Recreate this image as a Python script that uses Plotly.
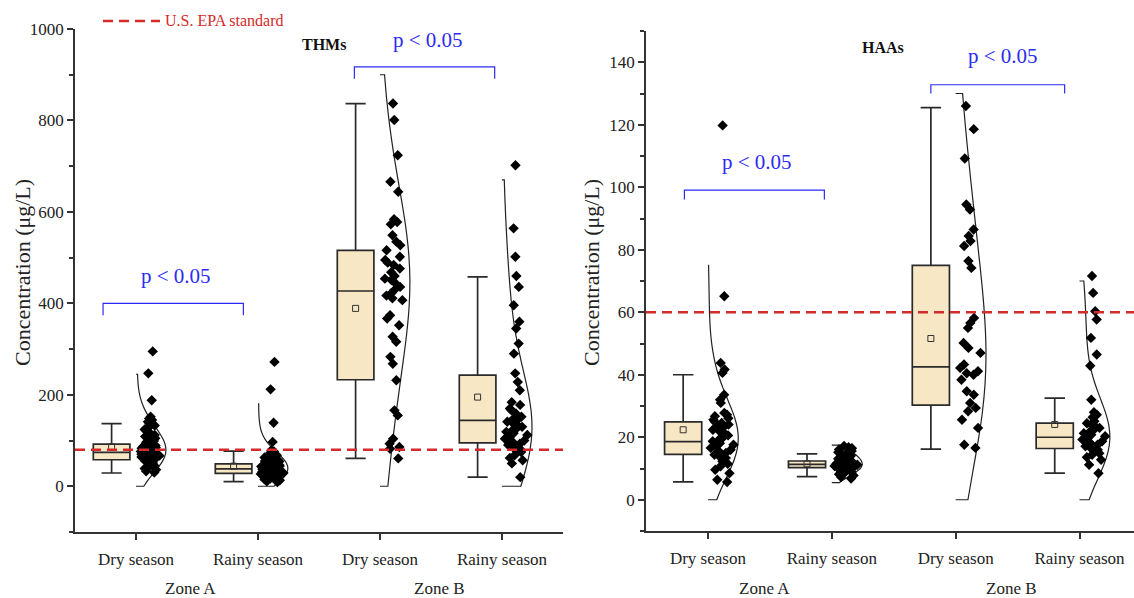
import plotly.graph_objects as go

# ---------------- data ----------------
categories = ["Dry season", "Rainy season", "Dry season", "Rainy season"]
zones = ["Zone A", "Zone B"]
positions = [1, 2, 3, 4]

# THMs box statistics (ug/L)
thm_q1 = [58, 28, 233, 95]
thm_median = [74, 38, 427, 144]
thm_q3 = [92, 49, 516, 243]
thm_low = [29, 10, 61, 20]
thm_high = [137, 77, 837, 458]
thm_mean = [86, 44, 389, 195]

# HAAs box statistics (ug/L)
haa_q1 = [14.5, 10.3, 30.3, 16.4]
haa_median = [18.6, 11.3, 42.5, 20.0]
haa_q3 = [24.9, 12.4, 75.0, 24.5]
haa_low = [5.7, 7.4, 16.2, 8.5]
haa_high = [40.0, 14.7, 125.5, 32.5]
haa_mean = [22.4, 11.5, 51.6, 24.1]

# individual samples
thm_dry_a = [295, 247, 188, 152, 148, 145, 141, 137, 133, 128, 124, 119, 116, 112, 109,
             105, 102, 99, 96, 93, 91, 89, 87, 85, 83, 82, 80, 79, 78, 77, 76, 75, 74,
             73, 72, 71, 70, 69, 67, 66, 64, 62, 60, 58, 56, 54, 51, 48, 45, 42, 39, 36, 33, 30]
thm_rainy_a = [272, 212, 139, 97, 79, 76, 73, 71, 68, 66, 63, 61, 59, 57, 55, 54, 52, 51,
               49, 48, 47, 46, 45, 44, 43, 42, 41, 40, 39, 38, 37, 36, 35, 34, 33, 32, 31,
               30, 29, 28, 27, 26, 25, 24, 23, 22, 21, 20, 18, 17, 15, 13, 11, 9]
thm_dry_b = [837, 801, 724, 666, 644, 584, 578, 573, 549, 535, 527, 516, 502, 495, 489,
             484, 476, 468, 460, 454, 451, 443, 436, 429, 422, 417, 411, 407, 374, 367,
             352, 327, 316, 283, 268, 232, 166, 155, 104, 93, 86, 82, 61]
thm_rainy_b = [702, 564, 502, 460, 436, 396, 360, 345, 312, 290, 247, 228, 210, 184, 178,
               170, 166, 159, 152, 148, 144, 141, 137, 133, 130, 126, 123, 119, 116, 112,
               108, 104, 100, 97, 93, 90, 86, 82, 78, 75, 68, 62, 57, 50, 20]

haa_dry_a = [119.8, 65.1, 43.8, 41.7, 40.6, 33.6, 32.0, 31.0, 27.8, 27.2, 26.7, 26.1, 25.6,
             25.0, 24.6, 24.1, 23.5, 23.0, 22.4, 21.9, 21.4, 20.6, 19.8, 19.2, 18.7, 18.1,
             17.6, 17.0, 16.6, 16.0, 15.5, 15.0, 14.4, 13.9, 13.4, 12.3, 11.5, 10.7, 9.6,
             8.5, 6.4, 5.7]
haa_rainy_a = [17.2, 16.8, 16.5, 16.1, 15.6, 15.2, 14.8, 14.5, 14.1, 13.7, 13.4, 13.1, 12.8,
               12.5, 12.3, 12.0, 11.8, 11.6, 11.4, 11.2, 11.0, 10.8, 10.6, 10.4, 10.2, 10.0,
               9.8, 9.5, 9.2, 8.9, 8.6, 8.2, 7.8, 7.3, 6.8]
haa_dry_b = [126.0, 118.6, 109.2, 94.5, 92.9, 86.5, 84.4, 82.8, 81.2, 76.4, 74.2, 58.2, 56.6,
             55.0, 50.2, 48.6, 47.0, 43.3, 42.2, 41.1, 40.5, 40.0, 38.4, 34.7, 33.6, 31.0,
             29.4, 28.3, 25.6, 23.0, 17.6, 16.6]
haa_rainy_b = [71.6, 66.2, 60.3, 57.7, 51.8, 46.5, 42.9, 32.0, 28.0, 27.2, 26.4, 25.1, 24.5,
               24.0, 23.4, 23.0, 22.5, 21.9, 21.3, 20.8, 20.3, 19.8, 19.3, 18.7, 18.2, 17.6,
               17.1, 16.6, 16.0, 15.5, 14.9, 14.4, 13.6, 12.8, 11.2, 8.5]

# distribution-curve extent and smoothing per group
thm_span = [(0, 245), (0, 180), (0, 900), (0, 670)]
thm_bw = [40, 30, 170, 120]
haa_span = [(0, 75), (5.5, 17.5), (0, 130), (0, 70)]
haa_bw = [10, 2.5, 28, 12]

epa_thm = 80
epa_haa = 60

FONT = "Liberation Serif"
BOX_FILL = "#F8E7C4"
RED = "#D42A2A"
BLUE = "#2B2BF5"

fig = go.Figure()


def add_panel(xa, ya, q1, med, q3, lo, hi, mean, samples, spans, bws):
    for i, p in enumerate(positions):
        # distribution curve
        fig.add_trace(go.Violin(
            x=[p] * len(samples[i]), y=samples[i], side="positive", width=0.49,
            points=False, spanmode="manual", span=list(spans[i]), bandwidth=bws[i],
            scalemode="width", fillcolor="rgba(0,0,0,0)",
            line=dict(color="#222", width=1.2), box_visible=False,
            meanline_visible=False, hoverinfo="skip", showlegend=False,
            xaxis=xa, yaxis=ya))
        # box
        fig.add_trace(go.Box(
            x=[p - 0.2], q1=[q1[i]], median=[med[i]], q3=[q3[i]],
            lowerfence=[lo[i]], upperfence=[hi[i]], width=0.3, whiskerwidth=0.55,
            fillcolor=BOX_FILL, line=dict(color="#2a2a2a", width=1.7),
            boxpoints=False, showlegend=False, xaxis=xa, yaxis=ya))
        # jittered points
        fig.add_trace(go.Box(
            x=[p + 0.12] * len(samples[i]), y=samples[i], boxpoints="all", jitter=1,
            pointpos=0, width=0.2, fillcolor="rgba(0,0,0,0)",
            line=dict(color="rgba(0,0,0,0)", width=0),
            marker=dict(symbol="diamond", size=8, color="black"),
            showlegend=False, xaxis=xa, yaxis=ya))
    fig.add_trace(go.Scatter(
        x=[p - 0.2 for p in positions], y=mean, mode="markers",
        marker=dict(symbol="square-open", size=6, color="#333", line=dict(width=1)),
        showlegend=False, xaxis=xa, yaxis=ya))


add_panel("x", "y", thm_q1, thm_median, thm_q3, thm_low, thm_high, thm_mean,
          [thm_dry_a, thm_rainy_a, thm_dry_b, thm_rainy_b], thm_span, thm_bw)
add_panel("x2", "y2", haa_q1, haa_median, haa_q3, haa_low, haa_high, haa_mean,
          [haa_dry_a, haa_rainy_a, haa_dry_b, haa_rainy_b], haa_span, haa_bw)

W, H = 1134, 598

axis_common = dict(showline=True, linecolor="#333", linewidth=1.6, showgrid=False,
                   zeroline=False, ticks="outside", ticklen=6, tickwidth=1.5,
                   tickcolor="#333", automargin=False,
                   tickfont=dict(family=FONT, size=17, color="#222"))

xa_common = dict(axis_common, tickvals=positions, ticktext=categories, ticklabelstandoff=5)

shapes = []
annotations = []

# EPA lines
for xr, yr, v, x0, x1 in [("x", "y", epa_thm, 0.5, 4.5), ("x2", "y2", epa_haa, 0.5, 4.45)]:
    shapes.append(dict(type="line", xref=xr, yref=yr, x0=x0, x1=x1, y0=v, y1=v,
                       line=dict(color=RED, width=2.5, dash="10px,6px")))

# significance brackets
for xr, yr, x0, x1, ytop, yend in [("x", "y", 0.73, 1.88, 400, 374),
                                    ("x", "y", 2.79, 3.94, 917, 891),
                                    ("x2", "y2", 0.81, 1.94, 99.1, 96.1),
                                    ("x2", "y2", 2.80, 3.88, 132.8, 130.0)]:
    shapes.append(dict(type="path", xref=xr, yref=yr,
                       path=f"M {x0},{yend} L {x0},{ytop} L {x1},{ytop} L {x1},{yend}",
                       line=dict(color=BLUE, width=1.2)))

for xr, yr, x, y in [("x", "y", 1.33, 460), ("x", "y", 3.39, 976),
                     ("x2", "y2", 1.40, 108), ("x2", "y2", 3.38, 142)]:
    annotations.append(dict(xref=xr, yref=yr, x=x, y=y, text="p < 0.05", showarrow=False,
                            font=dict(family=FONT, size=21, color=BLUE)))

annotations.append(dict(xref="x", yref="y", x=2.545, y=967, text="<b>THMs</b>",
                        showarrow=False, font=dict(family=FONT, size=16, color="#111")))
annotations.append(dict(xref="x2", yref="y2", x=2.41, y=144.8, text="<b>HAAs</b>",
                        showarrow=False, font=dict(family=FONT, size=16, color="#111")))

# zone labels
for xr, x, t in [("x", 1.45, zones[0]), ("x", 3.49, zones[1]),
                 ("x2", 1.46, zones[0]), ("x2", 3.45, zones[1])]:
    annotations.append(dict(xref=xr, yref="paper", x=x, y=(H - 588) / H, text=t,
                            showarrow=False, yanchor="middle",
                            font=dict(family=FONT, size=17, color="#222")))

# y titles
for xpx in [22, 591]:
    annotations.append(dict(xref="paper", yref="paper", x=xpx / W, y=(H - 273) / H,
                            xanchor="center", yanchor="middle",
                            text="Concentration (μg/L)", textangle=-90, showarrow=False,
                            font=dict(family=FONT, size=22, color="#222")))

# legend
shapes.append(dict(type="line", xref="paper", yref="paper", x0=103 / W, x1=160 / W,
                   y0=(H - 21) / H, y1=(H - 21) / H,
                   line=dict(color=RED, width=2.5, dash="10px,6px")))
annotations.append(dict(xref="paper", yref="paper", x=163 / W, y=(H - 21) / H,
                        xanchor="left", yanchor="middle", text="U.S. EPA standard",
                        showarrow=False, font=dict(family=FONT, size=16, color=RED)))

fig.update_layout(
    width=W, height=H, margin=dict(l=0, r=0, t=0, b=0, autoexpand=False),
    paper_bgcolor="white", plot_bgcolor="white",
    boxmode="overlay", violinmode="overlay",
    xaxis=dict(xa_common, domain=[75 / W, 563 / W], range=[0.5, 4.5], anchor="y"),
    yaxis=dict(axis_common, domain=[(H - 532) / H, (H - 29) / H], range=[-100, 1000],
               tick0=0, dtick=200, anchor="x",
               minor=dict(dtick=100, ticks="outside", ticklen=4, tickcolor="#333")),
    xaxis2=dict(xa_common, domain=[646 / W, 1.0], range=[0.5, 4.44], anchor="y2"),
    yaxis2=dict(axis_common, domain=[(H - 531) / H, (H - 31) / H], range=[-10, 150],
                tick0=0, dtick=20, anchor="x2",
                minor=dict(dtick=10, ticks="outside", ticklen=4, tickcolor="#333")),
    shapes=shapes, annotations=annotations, showlegend=False,
)

fig.write_html("out.html")
